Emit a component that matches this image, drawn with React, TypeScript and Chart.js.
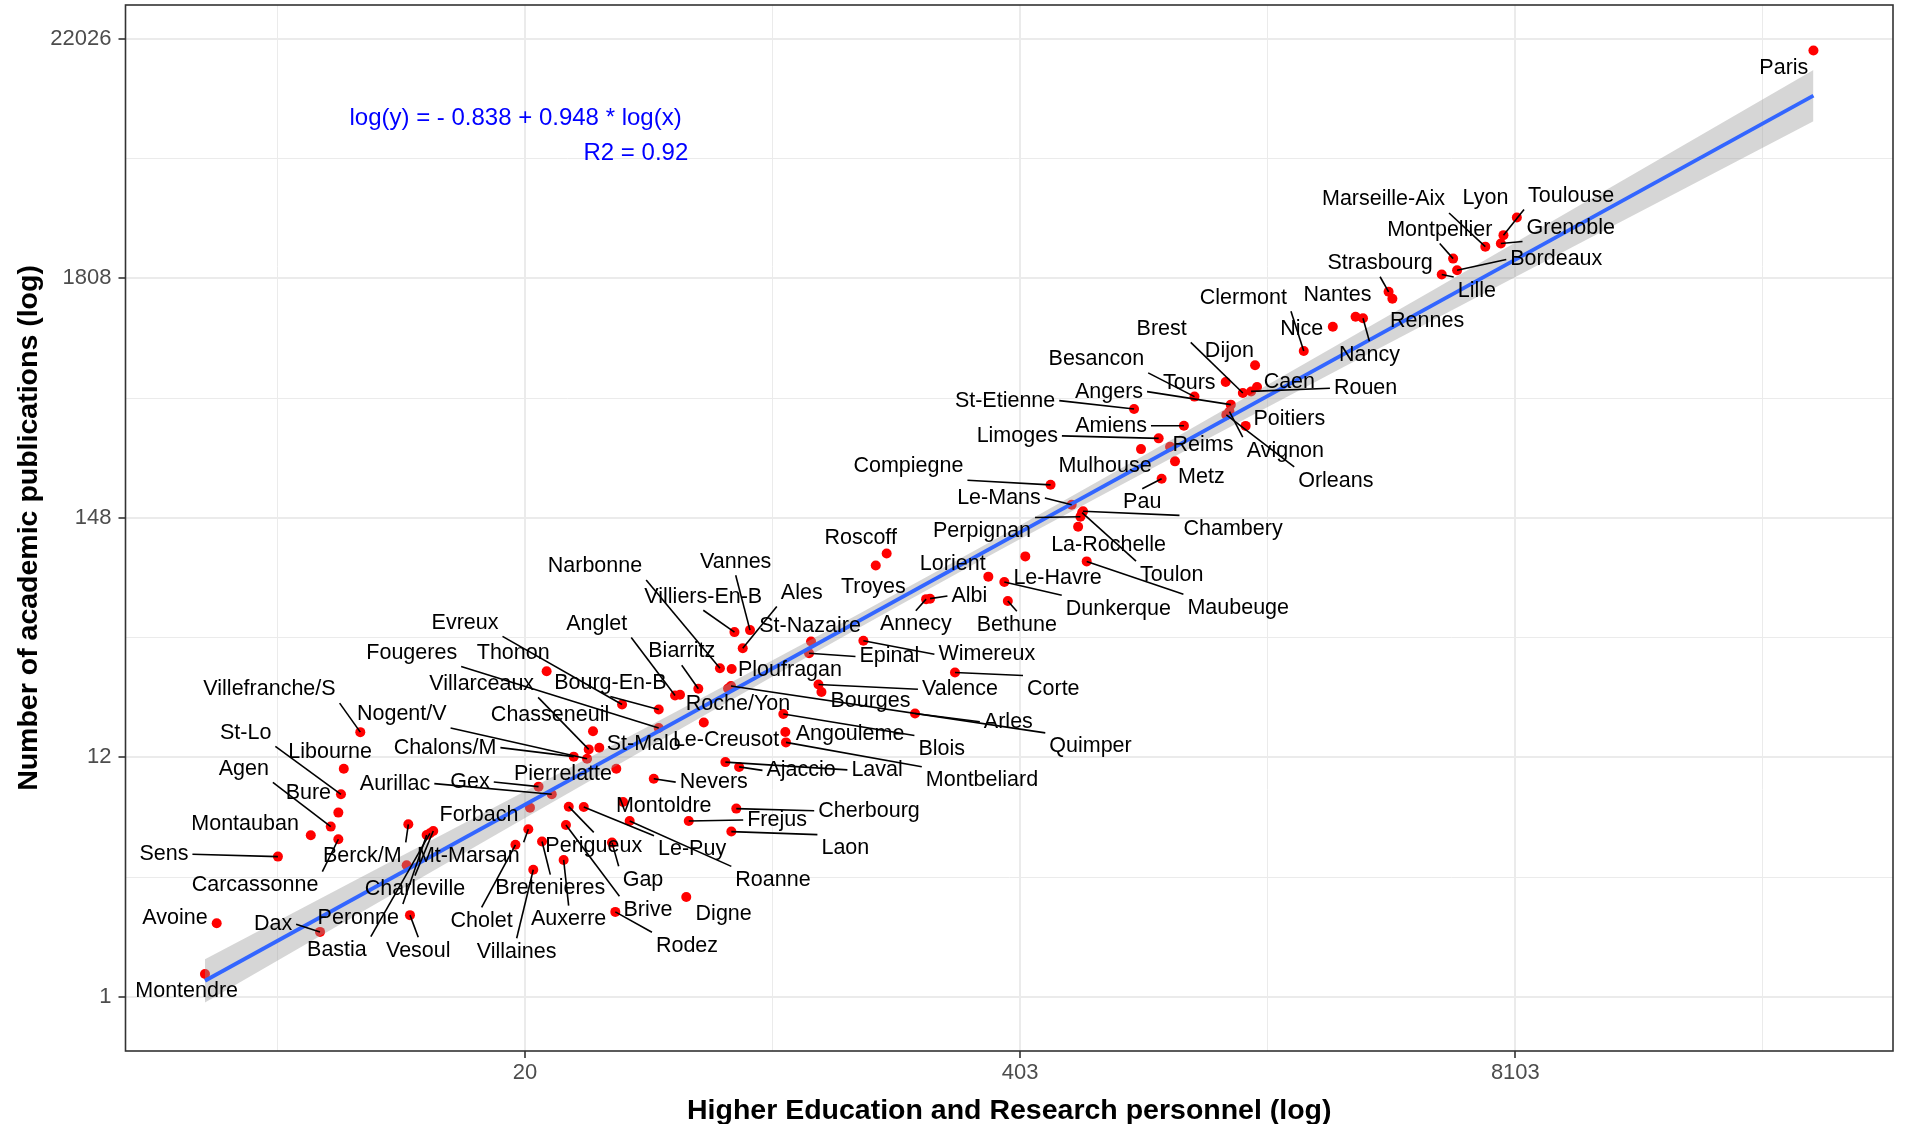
import React, { useEffect, useRef } from 'react';
import { Chart, registerables } from 'chart.js';

Chart.register(...registerables);

// ---------- data (natural-log values) ----------
const cities = ['Montendre','Avoine','Sens','Dax','Montauban','Carcassonne','Agen','Bure','St-Lo','Libourne','Villefranche/S','Berck/M','Vesoul','Peronne','Bastia','Charleville','Mt-Marsan','Forbach','Cholet','Villaines','Bretenieres','Auxerre','Aurillac','Gex','Pierrelatte','Perigueux','Le-Puy','Brive','Gap','Montoldre','Roanne','Rodez','Digne','Nevers','Frejus','Cherbourg','Laon','Ajaccio','Laval','Le-Creusot','Angouleme','Blois','Montbeliard','Roche/Yon','Quimper','Valence','Bourges','Arles','Corte','Wimereux','Epinal','St-Nazaire','Ploufragan','Ales','Vannes','Villiers-En-B','Narbonne','Biarritz','Anglet','Bourg-En-B','Evreux','Thonon','Fougeres','Villarceaux','Chasseneuil','St-Malo','Chalons/M','Nogent/V','Roscoff','Troyes','Lorient','Albi','Annecy','Bethune','Dunkerque','Le-Havre','Maubeuge','Toulon','La-Rochelle','Chambery','Perpignan','Le-Mans','Compiegne','Pau','Metz','Mulhouse','Reims','Limoges','Amiens','St-Etienne','Angers','Besancon','Tours','Brest','Dijon','Caen','Rouen','Poitiers','Avignon','Orleans','Clermont','Nice','Nantes','Nancy','Strasbourg','Rennes','Lille','Bordeaux','Montpellier','Marseille-Aix','Lyon','Toulouse','Grenoble','Paris','',''];

const logPersonnel = [1.061,1.132,1.503,1.758,1.702,1.869,1.823,1.869,1.885,1.902,2.002,2.293,2.303,2.404,2.424,2.444,3.020,3.030,2.942,3.050,3.103,3.234,3.162,3.082,3.553,3.265,3.356,3.248,3.527,3.594,3.634,3.547,3.977,3.780,3.992,4.280,4.250,4.297,4.214,4.083,4.577,4.565,4.581,4.230,4.248,4.778,4.796,5.363,5.605,5.050,4.721,4.733,4.252,4.319,4.363,4.269,4.181,4.050,3.909,3.810,3.588,3.131,3.810,3.386,3.412,3.450,3.295,3.376,5.191,5.125,5.807,5.454,5.430,5.925,5.904,6.031,6.403,6.375,6.351,6.381,6.365,6.312,6.184,6.857,6.938,6.732,6.908,6.839,6.992,6.690,7.276,7.056,7.245,7.349,7.423,7.435,7.399,7.366,7.268,7.249,7.718,7.894,8.032,8.077,8.232,8.255,8.554,8.647,8.623,8.818,9.009,8.928,8.912,10.806,2.283,3.939];

const logPublications = [0.238,0.769,1.464,0.678,1.686,1.645,1.777,1.923,2.114,2.381,2.763,1.801,0.853,1.689,1.707,1.731,1.749,1.975,1.587,1.327,1.621,1.429,2.114,2.194,2.381,1.985,1.981,1.794,1.610,2.033,1.835,0.887,1.043,2.277,1.835,1.965,1.725,2.400,2.450,2.864,2.765,2.953,2.656,3.218,3.244,3.260,3.182,2.958,3.385,3.716,3.586,3.708,3.422,3.638,3.828,3.807,3.430,3.215,3.145,2.999,3.052,3.399,2.807,2.583,2.773,2.600,2.507,2.486,4.628,4.503,4.386,4.156,4.151,4.132,4.330,4.597,4.545,5.053,4.907,5.068,5.011,5.136,5.344,5.407,5.589,5.717,5.741,5.829,5.961,6.136,6.181,6.265,6.418,6.303,6.593,6.364,6.319,5.959,6.108,6.074,6.741,6.994,7.098,7.082,7.359,7.287,7.540,7.583,7.705,7.830,8.134,7.950,7.863,9.878,1.374,3.153];

// label placement (offset of label centre from its point, in pixels)
const labelDX = [-18.3,-41.7,-114,-47,-65.7,-83.3,-87,-30,-95.3,-13.7,-90.8,-46,8.3,-68.4,-93,-18.3,-60,-51,-33.8,-16.6,8.3,5,-156.7,-68.5,-53.3,25,108.3,82,31,40.7,143.3,71.7,37.4,60,88.3,132.7,114,62,151.7,22.3,64.7,158.4,196,10,359.5,141.5,49,93.3,98.3,123.4,80.3,-1,58.3,59,-14.3,-31.2,-125,-16.6,-78.3,-48.4,-157,-33.4,-247,-107,-43,44.4,-128.7,-185.3,-26,-2.4,-35.6,39.3,-10.3,9,114,32.3,151.5,89.6,30.4,150,-98.4,-72.7,-142.1,-19.4,26.4,-36,33,-141.4,-72.8,-129,-121.8,-98.1,-36.4,-81.2,-25.7,32.3,114.5,43.7,55.9,109.5,-60.4,-31,-18.1,6.4,-8.5,34.7,35.1,99.2,-13.4,-101.8,-31.4,67.6,69.9,-29.6,0,0];
const labelDY = [16.7,-4.7,-2.3,-7.7,-11,46,-58,-20,-61.7,-16.6,-42.7,31.7,35.7,82.6,117,58.3,26.7,7.4,76.2,82.2,46.7,59.3,-10.7,-4.6,5.7,39.4,42.3,85,37.4,4,59,34,17.3,3.4,-1,2.2,16.7,3.5,7.8,18,2,35.2,38,15.5,60.5,4.7,9.3,8.3,16.7,13.4,3.3,-15.7,1.2,-55.4,-68.5,-35.5,-102,-37.3,-71.7,-26.7,-81.7,-18.4,-75.2,-65.7,-16.2,-3.3,-9,-44.3,-15.7,21.6,-13,-2.7,25.2,24,27,21.6,46.6,62,18,17.8,14.5,-6.8,-18.3,23.7,16.1,17.4,-2,-2.5,0,-8.3,-13,-37.4,1,-64.3,-14.2,-5.5,-3.2,-6.7,39.1,65.7,-53.3,2,-21.4,36.7,-28.7,22.8,16.2,-10.9,-28.8,-47.3,-19.6,-39.2,-15.6,17.7,0,0];

// regression fit shown on the chart
const fitIntercept = -0.838;
const fitSlope = 0.948;
const equationText = 'log(y) = - 0.838 + 0.948 * log(x)';
const r2Text = 'R2 = 0.92';

// confidence band half-width (log units) read along x
const bandX = [1.061, 2, 3, 4, 5, 5.56, 6, 7, 8, 9, 10, 10.806];
const bandHalfWidth = [0.226, 0.184, 0.140, 0.101, 0.073, 0.068, 0.071, 0.097, 0.135, 0.180, 0.228, 0.268];

// axes
const xGridValues = [1.5, 3, 4.5, 6, 7.5, 9, 10.5];
const xMajorTicks = [3, 6, 9];
const xTickLabels = ['20', '403', '8103'];
const yGridValues = [0, 1.25, 2.5, 3.75, 5, 6.25, 7.5, 8.75, 10];
const yMajorTicks = [0, 2.5, 5, 7.5, 10];
const yTickLabels = ['1', '12', '148', '1808', '22026'];
const X_MIN = 0.5795, X_MAX = 11.288, Y_MIN = -0.565, Y_MAX = 10.352;

const FONT = '"Liberation Sans", Arial, Helvetica, sans-serif';
const LABEL_SIZE = 21.5;

const fitY = (x: number) => fitIntercept + fitSlope * x;
const findMajor = (arr: number[], v: number) => arr.findIndex((m) => Math.abs(m - v) < 1e-6);

export default function App() {
  const ref = useRef<HTMLCanvasElement>(null);

  useEffect(() => {
    const canvas = ref.current;
    if (!canvas) return;
    const points = logPersonnel.map((x, i) => ({ x, y: logPublications[i] }));
    const xLo = Math.min(...logPersonnel);
    const xHi = Math.max(...logPersonnel);

    const overlay = {
      id: 'overlay',
      afterDatasetsDraw(chart: any) {
        const ctx = chart.ctx as CanvasRenderingContext2D;
        const xs = chart.scales.x;
        const ys = chart.scales.y;
        const a = chart.chartArea;
        ctx.save();
        // panel border
        ctx.strokeStyle = '#333333';
        ctx.lineWidth = 1.6;
        ctx.strokeRect(a.left, a.top, a.right - a.left, a.bottom - a.top);

        // equation
        ctx.fillStyle = '#0000FF';
        ctx.font = `24px ${FONT}`;
        ctx.textAlign = 'right';
        ctx.textBaseline = 'middle';
        ctx.fillText(equationText, xs.getPixelForValue(3.949), ys.getPixelForValue(9.172));
        ctx.fillText(r2Text, xs.getPixelForValue(3.989), ys.getPixelForValue(8.801));

        // repelled labels
        ctx.font = `${LABEL_SIZE}px ${FONT}`;
        ctx.textAlign = 'center';
        ctx.textBaseline = 'middle';
        const pad = 4;
        const halfH = LABEL_SIZE * 0.45 + pad;
        for (let i = 0; i < cities.length; i++) {
          const name = cities[i];
          if (!name) continue;
          const px = xs.getPixelForValue(logPersonnel[i]);
          const py = ys.getPixelForValue(logPublications[i]);
          const cx = px + labelDX[i];
          const cy = py + labelDY[i];
          const halfW = ctx.measureText(name).width / 2 + pad;
          const x1 = cx - halfW, x2 = cx + halfW, y1 = cy - halfH, y2 = cy + halfH;
          const inX = px >= x1 && px <= x2;
          const inY = py >= y1 && py <= y2;
          // nearest point of the label box (for the minimum-length test)
          const nx = Math.min(Math.max(px, x1), x2);
          const ny = Math.min(Math.max(py, y1), y2);
          const dNear = Math.hypot(nx - px, ny - py);
          let ox: number, oy: number;
          if (inX && inY) { ox = px; oy = py; }
          else if (inX) { ox = cx; oy = py < y1 ? y1 : y2; }
          else if (inY) { oy = cy; ox = px < x1 ? x1 : x2; }
          else { ox = px < x1 ? x1 : x2; oy = py < y1 ? y1 : y2; }
          if (dNear > 10) {
            ctx.strokeStyle = '#000000';
            ctx.lineWidth = 1.6;
            ctx.beginPath();
            ctx.moveTo(px, py);
            ctx.lineTo(ox, oy);
            ctx.stroke();
          }
          ctx.fillStyle = '#000000';
          ctx.fillText(name, cx, cy);
        }
        ctx.restore();
      },
    };

    const chart = new Chart(canvas, {
      type: 'scatter',
      data: {
        datasets: [
          {
            type: 'line',
            data: [{ x: xLo, y: fitY(xLo) }, { x: xHi, y: fitY(xHi) }],
            borderColor: '#3366FF',
            borderWidth: 3.8,
            pointRadius: 0,
            fill: false,
            order: 1,
          } as any,
          {
            type: 'line',
            data: bandX.map((x, i) => ({ x, y: fitY(x) - bandHalfWidth[i] })),
            borderColor: 'rgba(0,0,0,0)',
            borderWidth: 0,
            pointRadius: 0,
            fill: false,
            cubicInterpolationMode: 'monotone',
            order: 2,
          } as any,
          {
            type: 'line',
            data: bandX.map((x, i) => ({ x, y: fitY(x) + bandHalfWidth[i] })),
            borderColor: 'rgba(0,0,0,0)',
            borderWidth: 0,
            pointRadius: 0,
            fill: '-1',
            backgroundColor: 'rgba(153,153,153,0.4)',
            cubicInterpolationMode: 'monotone',
            order: 2,
          } as any,
          {
            type: 'scatter',
            data: points,
            backgroundColor: '#FF0000',
            borderWidth: 0,
            pointRadius: 5,
            pointHoverRadius: 5,
            order: 3,
          } as any,
        ],
      },
      options: {
        responsive: false,
        animation: false,
        devicePixelRatio: 1,
        events: [],
        layout: { padding: { top: 3.5, right: 15, left: 0, bottom: 0 } },
        plugins: { legend: { display: false }, tooltip: { enabled: false } },
        scales: {
          x: {
            type: 'linear',
            position: 'bottom',
            min: X_MIN,
            max: X_MAX,
            afterBuildTicks: (s: any) => { s.ticks = xGridValues.map((v) => ({ value: v })); },
            afterFit: (s: any) => { s.height = 73; s.paddingLeft = 0; s.paddingRight = 0; },
            ticks: {
              autoSkip: false,
              maxRotation: 0,
              padding: 2,
              color: '#4D4D4D',
              font: { family: FONT, size: 22, lineHeight: 1.2 },
              callback: (v: any) => { const k = findMajor(xMajorTicks, Number(v)); return k >= 0 ? xTickLabels[k] : ''; },
            },
            grid: {
              color: '#EBEBEB',
              lineWidth: (c: any) => (c.tick && findMajor(xMajorTicks, c.tick.value) >= 0 ? 2 : 1),
              tickLength: 7,
              tickWidth: 1.6,
              tickColor: (c: any) => (c.tick && findMajor(xMajorTicks, c.tick.value) >= 0 ? '#333333' : 'rgba(0,0,0,0)'),
            },
            border: { display: false },
            title: {
              display: true,
              text: 'Higher Education and Research personnel (log)',
              color: '#000000',
              font: { family: FONT, size: 28.5, weight: 'bold', lineHeight: 0.9 },
              padding: { top: 0, bottom: 0 },
            },
          },
          y: {
            type: 'linear',
            position: 'left',
            min: Y_MIN,
            max: Y_MAX,
            afterBuildTicks: (s: any) => { s.ticks = yGridValues.map((v) => ({ value: v })); },
            afterFit: (s: any) => { s.width = 125.5; s.paddingTop = 0; s.paddingBottom = 0; },
            ticks: {
              autoSkip: false,
              padding: 7,
              color: '#4D4D4D',
              font: { family: FONT, size: 22, lineHeight: 1.2 },
              callback: (v: any) => { const k = findMajor(yMajorTicks, Number(v)); return k >= 0 ? yTickLabels[k] : ''; },
            },
            grid: {
              color: '#EBEBEB',
              lineWidth: (c: any) => (c.tick && findMajor(yMajorTicks, c.tick.value) >= 0 ? 2 : 1),
              tickLength: 7,
              tickWidth: 1.6,
              tickColor: (c: any) => (c.tick && findMajor(yMajorTicks, c.tick.value) >= 0 ? '#333333' : 'rgba(0,0,0,0)'),
            },
            border: { display: false },
            title: {
              display: true,
              text: 'Number of academic publications (log)',
              color: '#000000',
              font: { family: FONT, size: 28.5, weight: 'bold', lineHeight: 0.9 },
              padding: { top: 16.4, bottom: 0 },
            },
          },
        },
      } as any,
      plugins: [overlay],
    });
    return () => chart.destroy();
  }, []);

  return (
    <div style={{ position: 'absolute', left: 0, top: 0, width: 1908, height: 1124, background: '#FFFFFF' }}>
      <canvas ref={ref} width={1908} height={1124} style={{ display: 'block', width: 1908, height: 1124 }} />
    </div>
  );
}
